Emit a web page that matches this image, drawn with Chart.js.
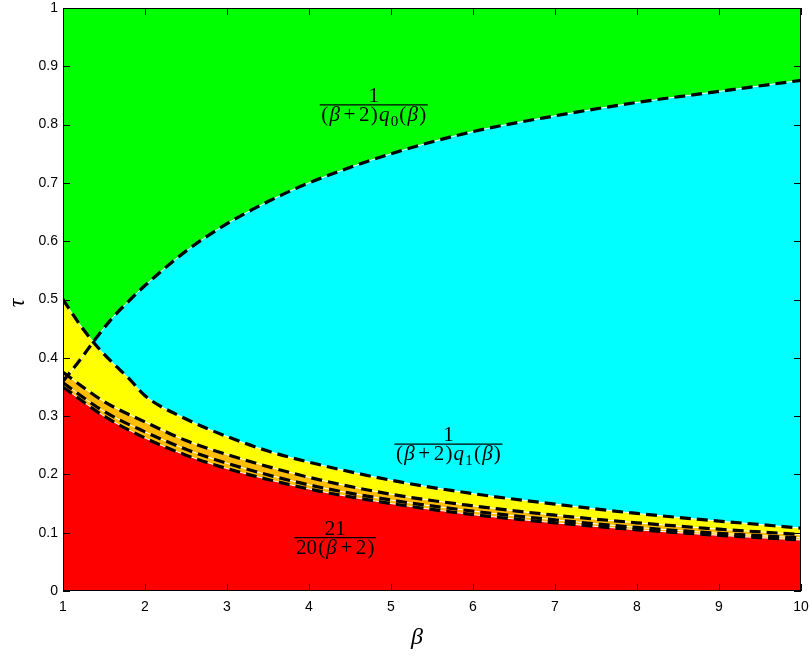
<!DOCTYPE html>
<html>
<head>
<meta charset="utf-8">
<script src="https://cdn.jsdelivr.net/npm/chart.js@4.4.0/dist/chart.umd.min.js"></script>
<style>
  body { margin: 0; background: #fff; }
  #wrap { width: 810px; height: 660px; }
</style>
</head>
<body>
<div id="wrap"><canvas id="regions" width="810" height="660"></canvas></div>
<script>
// boundary curves (tau against beta)
var beta  = [1, 1.2, 1.4, 1.6, 1.8, 2, 2.5, 3, 3.5, 4, 5, 6, 7, 8, 9, 10];
var tauQ0 = [0.360, 0.395, 0.433, 0.468, 0.497, 0.524, 0.583, 0.630, 0.668, 0.700, 0.750, 0.788, 0.815, 0.838, 0.857, 0.876];
var tauQ1 = [0.500, 0.458, 0.422, 0.392, 0.365, 0.335, 0.295, 0.265, 0.240, 0.221, 0.190, 0.167, 0.149, 0.133, 0.120, 0.108];

var betaLow = [1, 1.5, 2, 2.5, 3, 4, 5, 6, 7, 8, 9, 10];
var tauQ2  = [0.375, 0.325, 0.290, 0.258, 0.234, 0.195, 0.166, 0.146, 0.130, 0.117, 0.106, 0.097];
var tauQ3  = [0.357, 0.308, 0.273, 0.243, 0.219, 0.182, 0.156, 0.137, 0.122, 0.109, 0.099, 0.091];
var tauRed = [0.350, 0.300, 0.2625, 0.233, 0.210, 0.175, 0.150, 0.131, 0.117, 0.105, 0.0955, 0.0875];

var xTicks = [1, 2, 3, 4, 5, 6, 7, 8, 9, 10];
var yTicks = [0, 0.1, 0.2, 0.3, 0.4, 0.5, 0.6, 0.7, 0.8, 0.9, 1];
var yTickLabels = ['0', '0.1', '0.2', '0.3', '0.4', '0.5', '0.6', '0.7', '0.8', '0.9', '1'];

function pts(xs, ys) {
  return xs.map(function (x, i) { return { x: x, y: ys[i] }; });
}

// dashed black contour over a thin white one
function dashed(data) {
  return { data: data, borderColor: '#000', borderWidth: 3.2, borderDash: [11, 6], fill: false };
}
function white(data) {
  return { data: data, borderColor: '#fff', borderWidth: 1, fill: false };
}
function area(data, color, fill) {
  return { data: data, borderColor: 'rgba(0,0,0,0)', borderWidth: 0, backgroundColor: color, fill: fill };
}

var q0 = pts(beta, tauQ0), q1 = pts(beta, tauQ1);
var q2 = pts(betaLow, tauQ2), q3 = pts(betaLow, tauQ3), rd = pts(betaLow, tauRed);

// lower index = drawn on top
var datasets = [
  dashed(q0), dashed(q1), dashed(q2), dashed(q3), dashed(rd),      // 0-4
  white(q0), white(q1), white(q2), white(q3), white(rd),           // 5-9
  area(rd, '#ff0000', 'origin'),                                   // 10
  area(q2, '#ffbf00', 'origin'),                                   // 11
  area(q0, '#00ffff', { target: 13, above: '#00ffff', below: 'rgba(0,0,0,0)' }), // 12
  area(q1, '#ffff00', 'origin')                                    // 13
];

// fraction labels, anchored in data coordinates (centre of the bar)
var fracLabels = [
  { x: 4.79, y: 0.834,
    num: [{ t: '1' }],
    den: [{ t: '(' }, { t: 'β', i: 1 }, { t: '+', p: 3 }, { t: '2' }, { t: ')' }, { t: 'q', i: 1 }, { t: '0', s: 1 }, { t: '(' }, { t: 'β', i: 1 }, { t: ')' }] },
  { x: 5.70, y: 0.252,
    num: [{ t: '1' }],
    den: [{ t: '(' }, { t: 'β', i: 1 }, { t: '+', p: 3 }, { t: '2' }, { t: ')' }, { t: 'q', i: 1 }, { t: '1', s: 1 }, { t: '(' }, { t: 'β', i: 1 }, { t: ')' }] },
  { x: 4.32, y: 0.0914,
    num: [{ t: '21' }],
    den: [{ t: '20' }, { t: '(' }, { t: 'β', i: 1 }, { t: '+', p: 3 }, { t: '2' }, { t: ')' }] }
];

var SERIF = '"Liberation Serif", "DejaVu Serif", serif';
var FS = 21;

function runFont(r) {
  var size = r.s ? Math.round(FS * 0.7) : FS;
  return (r.i ? 'italic ' : '') + size + 'px ' + SERIF;
}
function runsWidth(ctx, runs) {
  var w = 0;
  runs.forEach(function (r) {
    ctx.font = runFont(r);
    r.w = ctx.measureText(r.t).width + 2 * (r.p || 0.6);
    w += r.w;
  });
  return w;
}
function drawRuns(ctx, runs, cx, base) {
  var w = runsWidth(ctx, runs);
  var x = cx - w / 2;
  runs.forEach(function (r) {
    ctx.font = runFont(r);
    ctx.fillText(r.t, x + (r.p || 0.6), base + (r.s ? FS * 0.22 : 0));
    x += r.w;
  });
  return w;
}

var plotDecor = {
  id: 'plotDecor',
  beforeDatasetsDraw: function (chart) {
    var a = chart.chartArea, ctx = chart.ctx;
    ctx.save();
    ctx.fillStyle = '#00ff00';
    ctx.fillRect(a.left, a.top, a.right - a.left, a.bottom - a.top);
    ctx.restore();
  },
  afterDatasetsDraw: function (chart) {
    var ctx = chart.ctx, xs = chart.scales.x, ys = chart.scales.y;
    ctx.save();
    ctx.fillStyle = '#000';
    ctx.strokeStyle = '#000';
    ctx.textAlign = 'left';
    ctx.textBaseline = 'alphabetic';
    fracLabels.forEach(function (f) {
      var cx = xs.getPixelForValue(f.x), cy = ys.getPixelForValue(f.y);
      var wn = runsWidth(ctx, f.num), wd = runsWidth(ctx, f.den);
      var w = Math.max(wn, wd) + 2;
      drawRuns(ctx, f.num, cx, cy - 3);
      drawRuns(ctx, f.den, cx, cy + FS * 0.78);
      ctx.lineWidth = 1.3;
      ctx.beginPath();
      ctx.moveTo(cx - w / 2, cy);
      ctx.lineTo(cx + w / 2, cy);
      ctx.stroke();
    });
    ctx.restore();
  },
  afterDraw: function (chart) {
    var a = chart.chartArea, ctx = chart.ctx, xs = chart.scales.x, ys = chart.scales.y;
    ctx.save();
    // frame with inward ticks on all four sides
    ctx.strokeStyle = '#000';
    ctx.lineWidth = 1;
    ctx.strokeRect(a.left + 0.5, a.top + 0.5, a.right - a.left - 1, a.bottom - a.top - 1);
    ctx.beginPath();
    xTicks.forEach(function (v) {
      var px = Math.round(xs.getPixelForValue(v)) + 0.5;
      ctx.moveTo(px, a.bottom); ctx.lineTo(px, a.bottom - 7);
      ctx.moveTo(px, a.top); ctx.lineTo(px, a.top + 7);
    });
    yTicks.forEach(function (v) {
      var py = Math.round(ys.getPixelForValue(v)) + 0.5;
      ctx.moveTo(a.left, py); ctx.lineTo(a.left + 7, py);
      ctx.moveTo(a.right, py); ctx.lineTo(a.right - 7, py);
    });
    ctx.stroke();

    // axis titles
    ctx.fillStyle = '#000';
    ctx.font = 'italic 24px ' + SERIF;
    ctx.textAlign = 'center';
    ctx.textBaseline = 'middle';
    ctx.fillText('β', 417, 638);
    ctx.translate(18, 303);
    ctx.rotate(-Math.PI / 2);
    ctx.fillText('τ', 0, 0);
    ctx.restore();
  }
};

var tickFont = { family: '"Liberation Sans", Arial, sans-serif', size: 14 };

new Chart(document.getElementById('regions'), {
  type: 'line',
  data: { datasets: datasets },
  plugins: [plotDecor],
  options: {
    responsive: false,
    animation: false,
    layout: { padding: { left: 0, right: 9, top: 8, bottom: 0 } },
    elements: {
      point: { radius: 0 },
      line: { cubicInterpolationMode: 'monotone' }
    },
    plugins: { legend: { display: false }, tooltip: { enabled: false } },
    scales: {
      x: {
        type: 'linear', min: 1, max: 10,
        afterBuildTicks: function (s) { s.ticks = xTicks.map(function (v) { return { value: v }; }); },
        afterFit: function (s) { s.height = 69; s.paddingLeft = 0; s.paddingRight = 0; },
        grid: { display: false, drawTicks: false },
        border: { display: false },
        ticks: { color: '#000', font: tickFont, padding: 8, maxRotation: 0 }
      },
      y: {
        type: 'linear', min: 0, max: 1,
        afterBuildTicks: function (s) { s.ticks = yTicks.map(function (v) { return { value: v }; }); },
        afterFit: function (s) { s.width = 63; s.paddingTop = 0; s.paddingBottom = 0; },
        grid: { display: false, drawTicks: false },
        border: { display: false },
        ticks: {
          color: '#000', font: tickFont, padding: 5,
          callback: function (v, i) { return yTickLabels[i]; }
        }
      }
    }
  }
});
</script>
</body>
</html>
